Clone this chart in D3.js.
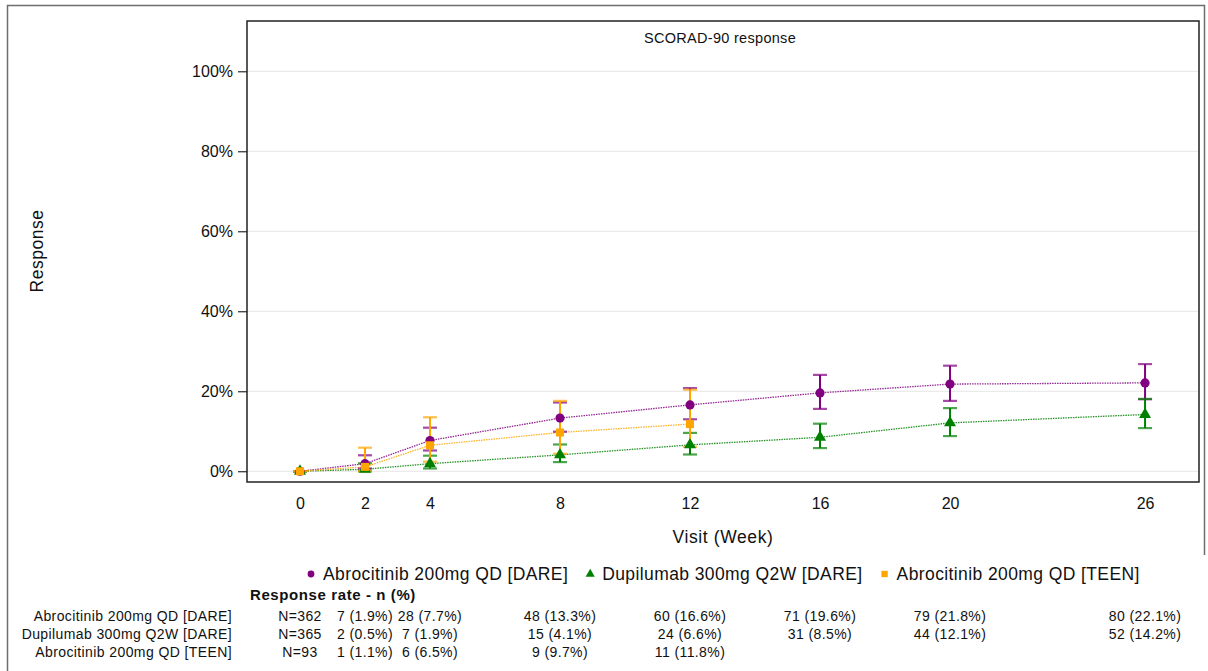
<!DOCTYPE html>
<html>
<head>
<meta charset="utf-8">
<script src="https://cdn.jsdelivr.net/npm/d3@7/dist/d3.min.js"></script>
<style>
  html, body { margin: 0; padding: 0; background: #fff; }
  svg { display: block; font-family: "Liberation Sans", Arial, sans-serif; }
</style>
</head>
<body>
<svg id="chart" width="1208" height="671"></svg>
<script>
// Visit weeks on the x axis
const weeks = [0, 2, 4, 8, 12, 16, 20, 26];
const yTicks = [0, 0.2, 0.4, 0.6, 0.8, 1.0];

// Treatment arms
const armNames = [
  "Abrocitinib 200mg QD [DARE]",
  "Dupilumab 300mg Q2W [DARE]",
  "Abrocitinib 200mg QD [TEEN]"
];
const armColors = ["#800080", "#008000", "#FFA500"];
const armSymbols = ["circle", "triangle", "square"];
const armTotals = [362, 365, 93];

// Responders (n) per visit, weeks 2 onwards
const abroDareN = [7, 28, 48, 60, 71, 79, 80];
const dupiDareN = [2, 7, 15, 24, 31, 44, 52];
const abroTeenN = [1, 6, 9, 11];

// Response rate (%) per visit, week 0 onwards
const abroDarePct = [0, 1.9, 7.7, 13.3, 16.6, 19.6, 21.8, 22.1];
const dupiDarePct = [0, 0.5, 1.9, 4.1, 6.6, 8.5, 12.1, 14.2];
const abroTeenPct = [0, 1.1, 6.5, 9.7, 11.8];

// 95% confidence limits (%)
const abroDareLo = [0, 0.7, 5.2, 9.9, 13.0, 15.6, 17.6, 18.0];
const abroDareHi = [0, 4.0, 10.9, 17.2, 20.8, 24.1, 26.4, 26.8];
const dupiDareLo = [0, 0.0, 0.7, 2.3, 4.2, 5.8, 8.8, 10.8];
const dupiDareHi = [0, 2.0, 3.9, 6.7, 9.6, 11.9, 15.8, 18.1];
const abroTeenLo = [0, 0.0, 2.4, 4.4, 6.1];
const abroTeenHi = [0, 5.9, 13.5, 17.6, 20.4];

const pctSeries = [abroDarePct, dupiDarePct, abroTeenPct];
const loSeries = [abroDareLo, dupiDareLo, abroTeenLo];
const hiSeries = [abroDareHi, dupiDareHi, abroTeenHi];
const nSeries = [abroDareN, dupiDareN, abroTeenN];

const arms = armNames.map((name, i) => ({
  name, color: armColors[i], symbol: armSymbols[i], total: armTotals[i],
  points: pctSeries[i].map((p, j) => ({
    week: weeks[j], v: p / 100, lo: loSeries[i][j] / 100, hi: hiSeries[i][j] / 100
  })),
  counts: nSeries[i].map((n, j) => ({ week: weeks[j + 1], n, p: pctSeries[i][j + 1] }))
}));

const svg = d3.select("#chart");
const W = 1208, H = 671;
const plot = { left: 247, right: 1199, top: 21, bottom: 482 };

const x = d3.scaleLinear().domain([-1.63, 27.66]).range([plot.left, plot.right]);
const y = d3.scaleLinear().domain([-0.0268, 1.1258]).range([plot.bottom, plot.top]);

// Outer frame
svg.append("path")
  .attr("d", `M7.5,${H} V5.5 H1204.5 V555`)
  .attr("fill", "none").attr("stroke", "#6e6e6e").attr("stroke-width", 1.5);

// Gridlines
svg.append("g").selectAll("line").data(yTicks).join("line")
  .attr("x1", plot.left).attr("x2", plot.right)
  .attr("y1", d => y(d)).attr("y2", d => y(d))
  .attr("stroke", "#e6e6e6").attr("stroke-width", 1);

// Y axis
const yAxis = svg.append("g")
  .attr("transform", `translate(${plot.left},0)`)
  .call(d3.axisLeft(y).tickValues(yTicks).tickFormat(d3.format(".0%")).tickSizeOuter(0).tickSize(9).tickPadding(5));
yAxis.select(".domain").remove();
yAxis.selectAll("line").attr("stroke", "#000");
yAxis.selectAll("text").attr("font-size", 16).attr("fill", "#111")
  .attr("font-family", "'Liberation Sans', Arial, sans-serif");

// X axis (labels only)
const xAxis = svg.append("g")
  .attr("transform", `translate(0,${plot.bottom})`)
  .call(d3.axisBottom(x).tickValues(weeks).tickFormat(d3.format("d")).tickSize(0).tickPadding(16));
xAxis.select(".domain").remove();
xAxis.selectAll("text").attr("font-size", 16).attr("fill", "#111")
  .attr("font-family", "'Liberation Sans', Arial, sans-serif");

// Plot frame
svg.append("rect")
  .attr("x", plot.left).attr("y", plot.top)
  .attr("width", plot.right - plot.left).attr("height", plot.bottom - plot.top)
  .attr("fill", "none").attr("stroke", "#222").attr("stroke-width", 1.5);

// Title inside the panel
svg.append("text").attr("x", (plot.left + plot.right) / 2 - 3).attr("y", 43)
  .attr("text-anchor", "middle").attr("font-size", 14.5).attr("letter-spacing", 0.3)
  .attr("fill", "#111").text("SCORAD-90 response");

// Axis labels
svg.append("text").attr("x", (plot.left + plot.right) / 2).attr("y", 543)
  .attr("text-anchor", "middle").attr("font-size", 17.5).attr("letter-spacing", 0.6)
  .attr("fill", "#111").text("Visit (Week)");
svg.append("text").attr("transform", "translate(43,251) rotate(-90)")
  .attr("text-anchor", "middle").attr("font-size", 17.5).attr("letter-spacing", 0.5)
  .attr("fill", "#111").text("Response");

const symbolType = { circle: d3.symbolCircle, triangle: d3.symbolTriangle, square: d3.symbolSquare };
const symbolSize = { circle: 66, triangle: 62, square: 64 };

// Connecting lines
const line = d3.line().x(d => x(d.week)).y(d => y(d.v));
const series = svg.append("g");
arms.forEach(a => {
  series.append("path").datum(a.points)
    .attr("d", line).attr("fill", "none")
    .attr("stroke", a.color).attr("stroke-width", 1.3)
    .attr("stroke-dasharray", "1.5 1").attr("opacity", 0.85);
});

// Error bars
arms.forEach(a => {
  const g = series.append("g");
  g.selectAll("line.bar").data(a.points).join("line").attr("class", "bar")
    .attr("x1", d => x(d.week)).attr("x2", d => x(d.week))
    .attr("y1", d => y(d.lo)).attr("y2", d => y(d.hi))
    .attr("stroke", a.color).attr("stroke-width", 2);
  ["lo", "hi"].forEach(k => {
    g.selectAll("line.cap-" + k).data(a.points).join("line").attr("class", "cap-" + k)
      .attr("x1", d => x(d.week) - 7).attr("x2", d => x(d.week) + 7)
      .attr("y1", d => y(d[k])).attr("y2", d => y(d[k]))
      .attr("stroke", a.color).attr("stroke-width", 2.2).attr("opacity", 0.7);
  });
});

// Markers
arms.forEach(a => {
  series.append("g").selectAll("path").data(a.points).join("path")
    .attr("transform", d => `translate(${x(d.week)},${y(d.v)})`)
    .attr("d", d3.symbol().type(symbolType[a.symbol]).size(symbolSize[a.symbol]))
    .attr("fill", a.color);
});

// Legend
const legendY = 574;
const legend = svg.append("g");
let lx = 311;
arms.forEach((a, i) => {
  legend.append("path")
    .attr("transform", `translate(${lx},${legendY})`)
    .attr("d", d3.symbol().type(symbolType[a.symbol]).size(a.symbol === "square" ? 40 : 36))
    .attr("fill", a.color);
  const t = legend.append("text").attr("x", lx + 12).attr("y", legendY + 6)
    .attr("font-size", 17.5).attr("letter-spacing", 0.4)
    .attr("fill", "#111").text(a.name);
  lx += 12 + t.node().getComputedTextLength() + 22;
});

// Response-rate table
const fmt1 = d3.format(".1f");
svg.append("text").attr("x", 250).attr("y", 600)
  .attr("font-size", 15).attr("font-weight", "bold").attr("letter-spacing", 0.6)
  .attr("fill", "#111").text("Response rate - n (%)");
const rowY = [621, 639, 657];
const cell = sel => sel.attr("font-size", 14).attr("letter-spacing", 0.4).attr("fill", "#111");
arms.forEach((a, i) => {
  svg.append("text").attr("x", 232).attr("y", rowY[i]).attr("text-anchor", "end")
    .call(cell).text(a.name);
  svg.append("text").attr("x", x(0)).attr("y", rowY[i]).attr("text-anchor", "middle")
    .call(cell).text("N=" + a.total);
  svg.append("g").selectAll("text").data(a.counts).join("text")
    .attr("x", d => x(d.week)).attr("y", rowY[i]).attr("text-anchor", "middle")
    .call(cell)
    .text(d => `${d.n} (${fmt1(d.p)}%)`);
});
</script>
</body>
</html>
